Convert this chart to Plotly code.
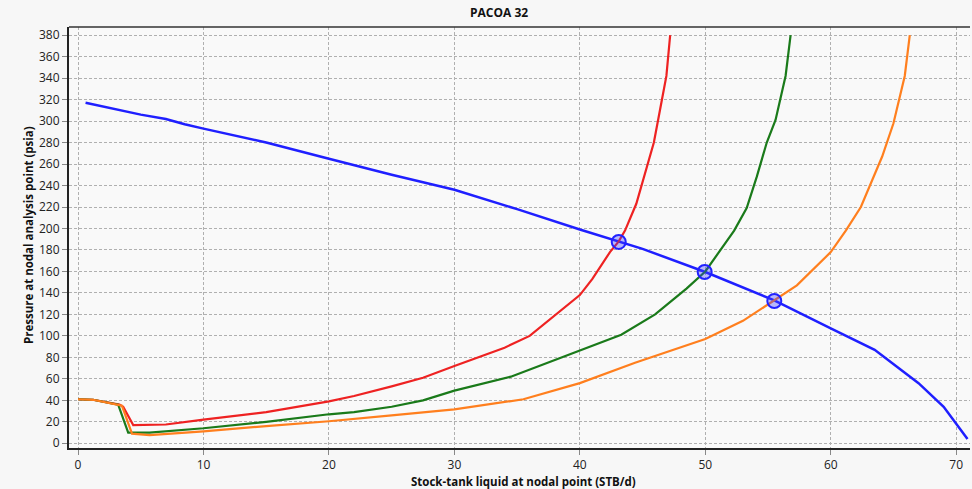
import plotly.graph_objects as go

# IPR (inflow) curve
ipr_x = [0.6, 3, 5, 7, 8.5, 10, 15, 20, 25, 30, 35, 40, 43.1, 45, 50, 55.5, 60, 63.5, 67, 69, 70.9]
ipr_y = [317, 311, 306, 302, 297, 293, 280, 265, 250, 236, 218, 199, 188, 181, 159.5, 133, 107, 87, 56, 34, 4]

# Outflow (VLP) curves
red_x = [0, 1.2, 3.3, 3.6, 4.4, 7, 10, 15, 20, 22, 25, 27.5, 30, 34, 36, 38, 40, 41, 42.4, 43.1, 43.6, 44.5, 45.1, 45.9, 46.4, 46.9, 47.2]
red_y = [41, 40.5, 36, 34, 17, 17.5, 22, 29, 39, 44, 53, 61, 72, 89, 100, 119, 138, 153, 178, 188, 198, 223, 248, 280, 311, 342, 380]

green_x = [0, 1.2, 3.2, 4.0, 5.7, 10, 15, 20, 22, 25, 27.5, 30, 34.5, 39, 43.3, 46, 48.5, 50, 51.2, 52.3, 53.3, 54.1, 54.9, 55.6, 56.4, 56.8]
green_y = [41, 40.5, 36, 10, 10, 14, 20, 27, 29, 34, 40, 49, 62, 82, 101, 120, 144, 160, 180, 198, 219, 248, 280, 301, 342, 380]

orange_x = [0, 1.2, 3.5, 4.3, 5.7, 10, 15, 20, 25, 30, 35.5, 40, 44.4, 50, 53, 55.5, 57.3, 60, 61.2, 62.4, 63.3, 64.1, 65, 65.9, 66.3]
orange_y = [41, 40.5, 35, 9, 7.5, 11, 16, 20.5, 26, 31.5, 41, 56, 75, 97, 114, 133, 147, 178, 198, 220, 245, 267, 298, 342, 380]

# Operating points (intersections)
op_x = [43.1, 49.95, 55.5]
op_y = [187.5, 159.5, 132.5]

x_ticks = [0, 10, 20, 30, 40, 50, 60, 70]
y_ticks = list(range(0, 381, 20))

FONT = "Open Sans, DejaVu Sans, sans-serif"

fig = go.Figure()
fig.add_trace(go.Scatter(x=ipr_x, y=ipr_y, mode="lines", line=dict(color="#1f1fff", width=2.5), showlegend=False))
fig.add_trace(go.Scatter(x=red_x, y=red_y, mode="lines", line=dict(color="#ee2222", width=2.2), showlegend=False))
fig.add_trace(go.Scatter(x=green_x, y=green_y, mode="lines", line=dict(color="#1a7a1a", width=2.2), showlegend=False))
fig.add_trace(go.Scatter(x=orange_x, y=orange_y, mode="lines", line=dict(color="#ff7f1e", width=2.2), showlegend=False))
fig.add_trace(go.Scatter(x=op_x, y=op_y, mode="markers",
                         marker=dict(symbol="circle", size=14, color="rgba(60,60,255,0.35)",
                                     line=dict(color="#2222ff", width=2)),
                         showlegend=False))

axis_font = dict(family=FONT, size=12, color="#222")
grid = dict(showgrid=True, gridcolor="#b0b0b0", griddash="3px,2px", gridwidth=1, zeroline=False,
            showline=True, linecolor="#222", linewidth=2, ticks="outside", ticklen=5,
            tickcolor="#888", tickfont=axis_font, automargin=False)
fig.update_layout(
    width=972, height=489,
    paper_bgcolor="#f7f7f7", plot_bgcolor="#f9f9f9",
    margin=dict(l=69, r=2, t=27, b=41),
    xaxis=dict(range=[-0.72, 71.1], tickvals=x_ticks, **grid),
    yaxis=dict(range=[-4.4, 387.6], tickvals=y_ticks, **grid),
    annotations=[
        dict(text="<b>PACOA 32</b>", x=499, y=13, xref="paper", yref="paper", showarrow=False,
             font=dict(family=FONT, size=12, color="#111")),
        dict(text="<b>Stock-tank liquid at nodal point (STB/d)</b>", x=523, y=481, showarrow=False,
             font=dict(family=FONT, size=11.5, color="#111")),
        dict(text="<b>Pressure at nodal analysis point (psia)</b>", x=28, y=235, showarrow=False,
             textangle=-90, font=dict(family=FONT, size=11.5, color="#111")),
    ],
)
# convert pixel positions of annotations to paper coords
L, R, T, B = 69, 2, 27, 41
pw, ph = 972 - L - R, 489 - T - B
for a in fig.layout.annotations:
    a.xref = "paper"
    a.yref = "paper"
    a.x = (a.x - L) / pw
    a.y = 1 - (a.y - T) / ph
    a.xanchor = "center"
    a.yanchor = "middle"

# top frame line
fig.add_shape(type="line", xref="paper", yref="paper", x0=0, x1=1, y0=1, y1=1,
              line=dict(color="#333", width=1.5))

fig.write_html("out.html", config={"displayModeBar": False},
               post_script="document.body.style.margin='0';document.body.style.overflow='hidden';")
